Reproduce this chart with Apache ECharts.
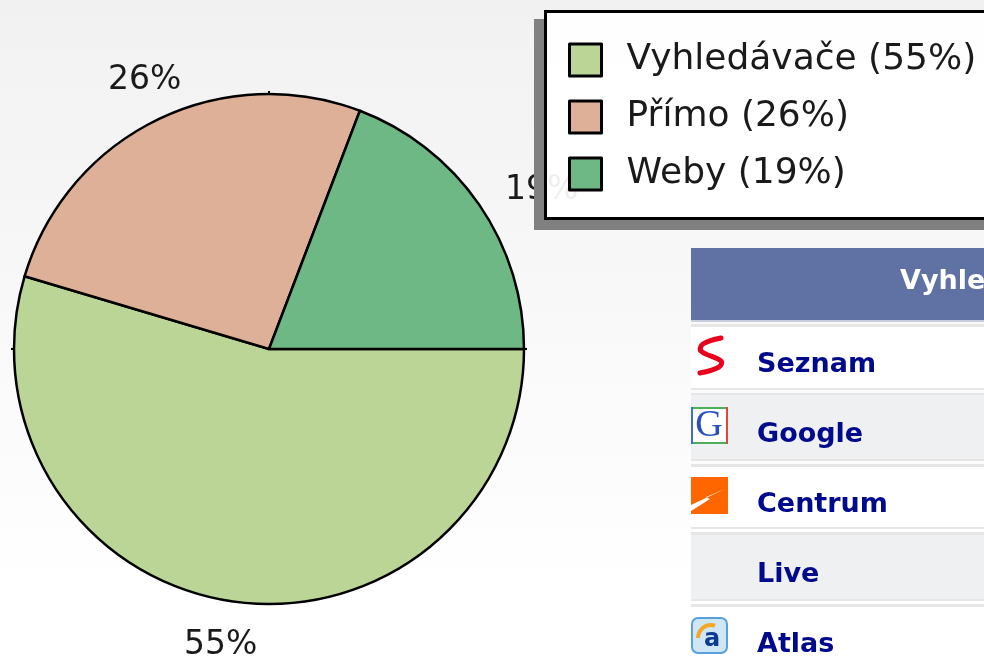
<!DOCTYPE html>
<html>
<head>
<meta charset="utf-8">
<style>
html, body { margin: 0; padding: 0; background: #fff; }
#chart-container { width: 984px; height: 656px; }
</style>
<script src="https://cdn.jsdelivr.net/npm/echarts@6/dist/echarts.min.js"></script>
</head>
<body>
<div id="chart-container"></div>
<script>
// data
const sources = ["Vyhledávače", "Přímo", "Weby"];
const shares = [54.6, 26.2, 19.2];
const colors = ["#bad595", "#deb097", "#6eb885"];
const tableHeader = "Vyhledávače";
const engines = ["Seznam", "Google", "Centrum", "Live", "Atlas"];

let dom = document.getElementById("chart-container");
let myChart = echarts.init(dom, null, { renderer: "canvas", useDirtyRect: false });

const pctLabelSpots = [
    { x: 184, y: 645 },
    { x: 108, y: 80 },
    { x: 505, y: 190 },
];

const tableLeft = 691;
const rowTops = [327, 395, 467, 535, 607];
const rowHeights = [61, 64, 60, 64, 60];
const rowMiddles = [365, 435, 505, 575, 645];

let graphics = [
    // legend frame sits over the pie labels, shadow only shows left and below
    { type: "rect", z: 3, shape: { x: 534, y: 19, width: 10, height: 211 }, style: { fill: "#808080" } },
    { type: "rect", z: 3, shape: { x: 534, y: 220, width: 460, height: 10 }, style: { fill: "#808080" } },
    {
        type: "rect", z: 3,
        shape: { x: 545.5, y: 11.5, width: 450, height: 207 },
        style: { fill: "rgba(255,255,255,0.93)", stroke: "#000", lineWidth: 3 },
    },
    // ticks where the pie axis pokes out of the circle
    { type: "rect", z: 3, shape: { x: 268, y: 91, width: 2, height: 4 }, style: { fill: "#000" } },
    { type: "rect", z: 3, shape: { x: 11, y: 348, width: 4, height: 2 }, style: { fill: "#000" } },
    { type: "rect", z: 3, shape: { x: 523, y: 348, width: 4, height: 2 }, style: { fill: "#000" } },
    // table header
    { type: "rect", shape: { x: tableLeft, y: 248, width: 300, height: 72 }, style: { fill: "#6072a4" } },
    {
        type: "text",
        style: {
            x: 900, y: 282, text: tableHeader, fill: "#fff",
            font: "bold 27px 'DejaVu Sans'", verticalAlign: "middle",
        },
    },
    { type: "rect", shape: { x: tableLeft, y: 320, width: 300, height: 2 }, style: { fill: "#c8cede" } },
    { type: "rect", shape: { x: tableLeft, y: 324, width: 300, height: 3 }, style: { fill: "#e6e6e6" } },
];

engines.forEach(function (name, i) {
    graphics.push({
        type: "rect",
        shape: { x: tableLeft, y: rowTops[i], width: 300, height: rowHeights[i] },
        style: { fill: i % 2 ? "#eff0f2" : "#fff" },
    });
    graphics.push({
        type: "rect",
        shape: { x: tableLeft, y: rowTops[i] + rowHeights[i], width: 300, height: 2 },
        style: { fill: "#e6e6e6" },
    });
    graphics.push({
        type: "rect",
        shape: { x: tableLeft, y: rowTops[i] + rowHeights[i] + 5, width: 300, height: 3 },
        style: { fill: "#e6e6e6" },
    });
    graphics.push({
        type: "text", z: 1,
        style: {
            x: 757, y: rowMiddles[i], text: name, fill: "#000a8c",
            font: "bold 27px 'DejaVu Sans'", verticalAlign: "middle",
        },
    });
});

// engine logos
graphics.push(
    {
        type: "polyline", z: 1,
        shape: { points: [[721, 338], [703, 344], [701, 351], [721, 361], [719, 367], [700, 373]], smooth: 0.4 },
        style: { stroke: "#e8001c", lineWidth: 5, fill: null, lineCap: "round", lineJoin: "round" },
    },
    {
        type: "rect", z: 1,
        shape: { x: 692, y: 408, width: 35, height: 35 },
        style: { fill: "#fff", stroke: "#4fae5c", lineWidth: 2 },
    },
    { type: "rect", z: 1, shape: { x: 691, y: 407, width: 2, height: 37 }, style: { fill: "#3a6fd8" } },
    { type: "rect", z: 1, shape: { x: 726, y: 407, width: 2, height: 37 }, style: { fill: "#d84a3a" } },
    {
        type: "text", z: 1,
        style: { x: 709, y: 426, text: "G", fill: "#2a50c0", font: "38px 'Liberation Serif'", align: "center", verticalAlign: "middle" },
    },
    { type: "rect", z: 1, shape: { x: 691, y: 477, width: 37, height: 37 }, style: { fill: "#ff6600" } },
    {
        type: "polygon", z: 1,
        shape: { points: [[691, 505], [725, 489], [706, 497], [710, 499], [691, 511]] },
        style: { fill: "#fff" },
    },
    {
        type: "rect", z: 1,
        shape: { x: 692, y: 618, width: 35, height: 35, r: 6 },
        style: { fill: "#cfe6f7", stroke: "#5aa0dc", lineWidth: 2 },
    },
    {
        type: "arc", z: 1,
        shape: { cx: 711, cy: 638, r: 13, startAngle: Math.PI, endAngle: Math.PI * 1.6 },
        style: { stroke: "#f5a623", lineWidth: 4, fill: null },
    },
    {
        type: "text", z: 1,
        style: { x: 712, y: 640, text: "a", fill: "#103a90", font: "bold 24px 'DejaVu Sans'", align: "center", verticalAlign: "middle" },
    }
);

let option = {
    animation: false,
    backgroundColor: {
        type: "linear", x: 0, y: 0, x2: 0, y2: 1,
        colorStops: [
            { offset: 0, color: "#f1f1f1" },
            { offset: 0.9, color: "#ffffff" },
            { offset: 1, color: "#ffffff" },
        ],
    },
    legend: {
        orient: "vertical",
        left: 568,
        top: 42,
        padding: 0,
        itemWidth: 32,
        itemHeight: 32,
        itemGap: 21,
        icon: "rect",
        itemStyle: { borderColor: "#000", borderWidth: 3 },
        selectedMode: false,
        formatter: function (name) {
            return name + " (" + Math.round(shares[sources.indexOf(name)]) + "%)";
        },
        textStyle: {
            fontFamily: "DejaVu Sans",
            fontSize: 36,
            color: "#1a1a1a",
            padding: [0, 0, 0, 20],
        },
    },
    graphic: graphics,
    series: [{
        name: "Zdroje",
        type: "pie",
        center: [269, 349],
        radius: [0, 255],
        startAngle: 0,
        clockwise: true,
        avoidLabelOverlap: false,
        silent: true,
        data: sources.map(function (name, i) {
            return { name: name, value: shares[i], itemStyle: { color: colors[i] } };
        }),
        itemStyle: { borderColor: "#000", borderWidth: 2.5 },
        label: {
            show: true,
            position: "outside",
            formatter: function (p) {
                return Math.round(p.value) + "%";
            },
            fontFamily: "DejaVu Sans",
            fontSize: 33,
            color: "#1a1a1a",
        },
        labelLine: { show: false },
        labelLayout: function (params) {
            const spot = pctLabelSpots[params.dataIndex];
            return { x: spot.x, y: spot.y, align: "left", verticalAlign: "middle" };
        },
    }],
};

if (option && typeof option === "object") {
    myChart.setOption(option);
}

window.addEventListener("resize", myChart.resize);
</script>
</body>
</html>
